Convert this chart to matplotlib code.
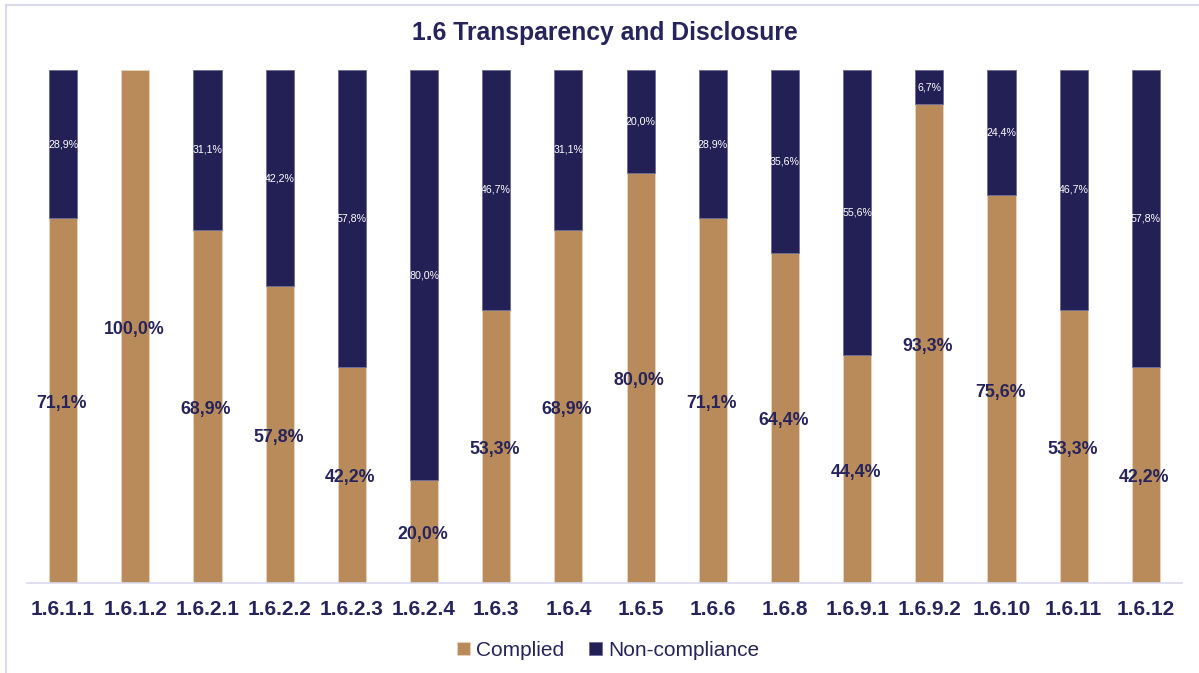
import matplotlib
matplotlib.use("Agg")
import matplotlib.pyplot as plt
from matplotlib.lines import Line2D
import numpy as np

plt.rcParams['font.family'] = ['Liberation Sans', 'DejaVu Sans']

categories = ["1.6.1.1", "1.6.1.2", "1.6.2.1", "1.6.2.2", "1.6.2.3", "1.6.2.4", "1.6.3", "1.6.4",
              "1.6.5", "1.6.6", "1.6.8", "1.6.9.1", "1.6.9.2", "1.6.10", "1.6.11", "1.6.12"]
complied = [71.1, 100.0, 68.9, 57.8, 42.2, 20.0, 53.3, 68.9, 80.0, 71.1, 64.4, 44.4, 93.3, 75.6, 53.3, 42.2]
non_compliance = [28.9, 0.0, 31.1, 42.2, 57.8, 80.0, 46.7, 31.1, 20.0, 28.9, 35.6, 55.6, 6.7, 24.4, 46.7, 57.8]

TAN = "#B98B5B"
NAVY = "#232056"
TXT = "#26245A"

W, H = 1199, 673
fig = plt.figure(figsize=(W / 100, H / 100), dpi=100)
ax = fig.add_axes([27 / W, 1 - 583 / H, (1182 - 27) / W, (583 - 70) / H])

x = np.arange(len(categories))
bw = 0.39
b1 = ax.bar(x, complied, bw, color=TAN, edgecolor="#E8D4BE", linewidth=0.6, label="Complied")
nc_lw = [0.6 if v > 0 else 0 for v in non_compliance]
b2 = ax.bar(x, non_compliance, bw, bottom=complied, color=NAVY, edgecolor="#6E6A98", linewidth=nc_lw,
            label="Non-compliance")

def fmt(v):
    return f"{v:.1f}%".replace(".", ",")

for i, (c, n) in enumerate(zip(complied, non_compliance)):
    ax.annotate(fmt(c), (i - 0.02, c / 2), xytext=(0, -3), textcoords="offset pixels",
                ha="center", va="center", fontsize=12.8, fontweight="bold", color=TXT)
    if n > 0:
        ax.text(i, c + n / 2, fmt(n), ha="center", va="center", fontsize=7.7, color="white")

ax.set_xlim(-0.5, len(categories) - 0.5)
ax.set_ylim(0, 100)
ax.set_xticks(x)
ax.set_xticklabels(categories, fontsize=15, fontweight="bold", color=TXT)
ax.tick_params(axis="x", length=0, pad=12)
ax.set_yticks([])
for s in ["top", "right", "left"]:
    ax.spines[s].set_visible(False)
ax.spines["bottom"].set_color("#D9D9EE")
ax.spines["bottom"].set_linewidth(1.2)

fig.text(605 / W, 1 - 33 / H, "1.6 Transparency and Disclosure", ha="center", va="center",
         fontsize=17.8, fontweight="bold", color=TXT)

fig.legend(handles=[b1, b2], labels=["Complied", "Non-compliance"], loc="center",
           bbox_to_anchor=(608 / W, 1 - 650 / H), ncol=2, frameon=False, fontsize=15,
           labelcolor=TXT, handlelength=0.6, handleheight=0.6, handletextpad=0.3, columnspacing=1.2)

# light frame lines on left and top
fig.add_artist(Line2D([6 / W, 6 / W], [0, 1 - 5 / H], transform=fig.transFigure, color="#D9D9F0", lw=1.5))
fig.add_artist(Line2D([6 / W, 1], [1 - 5 / H, 1 - 5 / H], transform=fig.transFigure, color="#D9D9F0", lw=1.5))

fig.savefig("out.png", dpi=100)
